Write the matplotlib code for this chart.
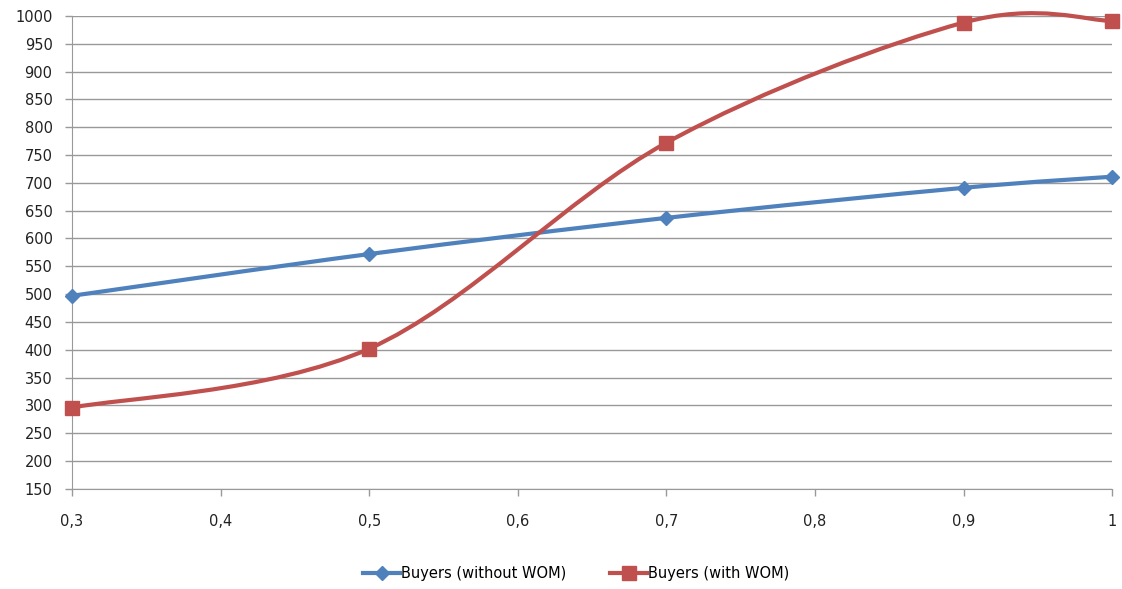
import numpy as np
import matplotlib.pyplot as plt
from matplotlib.path import Path
from matplotlib.patches import PathPatch

# data
x = [0.3, 0.5, 0.7, 0.9, 1.0]
buyers_no_wom = [497, 572, 637, 691, 711]
buyers_wom = [296, 402, 772, 988, 991]
xticks = [0.3, 0.4, 0.5, 0.6, 0.7, 0.8, 0.9, 1.0]
yticks = list(range(150, 1001, 50))

blue = "#4F81BD"
red = "#C0504D"
grid_col = "#999999"


def smooth_path(xs, ys):
    # excel-like smoothed line: catmull-rom as cubic bezier segments
    pts = np.column_stack([xs, ys]).astype(float)
    n = len(pts)
    verts = [pts[0]]
    codes = [Path.MOVETO]
    for i in range(n - 1):
        p0 = pts[max(i - 1, 0)]
        p1 = pts[i]
        p2 = pts[i + 1]
        p3 = pts[min(i + 2, n - 1)]
        c1 = p1 + (p2 - p0) / 6
        c2 = p2 - (p3 - p1) / 6
        verts += [c1, c2, p2]
        codes += [Path.CURVE4] * 3
    return Path(verts, codes)


fig = plt.figure(figsize=(11.22, 5.89), dpi=100)
ax = fig.add_axes([0.0642, 0.170, 0.927, 0.803])

for ys, col, mk, ms, lab in [
    (buyers_no_wom, blue, "D", 7, "Buyers (without WOM)"),
    (buyers_wom, red, "s", 10, "Buyers (with WOM)"),
]:
    patch = PathPatch(smooth_path(x, ys), facecolor="none", edgecolor=col,
                      lw=3, clip_on=False, zorder=3)
    ax.add_patch(patch)
    ax.plot(x, ys, linestyle="none", marker=mk, markersize=ms, color=col,
            clip_on=False, zorder=4)
    ax.plot([], [], color=col, lw=3, marker=mk, markersize=ms, label=lab)

ax.set_xlim(0.3, 1.0)
ax.set_ylim(150, 1000)
ax.set_xticks(xticks)
ax.set_xticklabels([("%g" % v).replace(".", ",") for v in xticks])
ax.set_yticks(yticks)
ax.yaxis.grid(True, color=grid_col, lw=1)
ax.set_axisbelow(True)
for s in ["top", "right"]:
    ax.spines[s].set_visible(False)
for s in ["left", "bottom"]:
    ax.spines[s].set_color(grid_col)
ax.tick_params(axis="both", colors=grid_col, length=5, width=1,
               labelcolor="#222222", labelsize=10.5)
ax.tick_params(axis="x", pad=13)
ax.tick_params(axis="y", pad=9)

ax.legend(loc="upper center", bbox_to_anchor=(0.485, -0.135), ncol=2,
          frameon=False, fontsize=10.5, handlelength=2.5, handletextpad=0.1,
          columnspacing=3)

fig.savefig("out.png", dpi=100)
